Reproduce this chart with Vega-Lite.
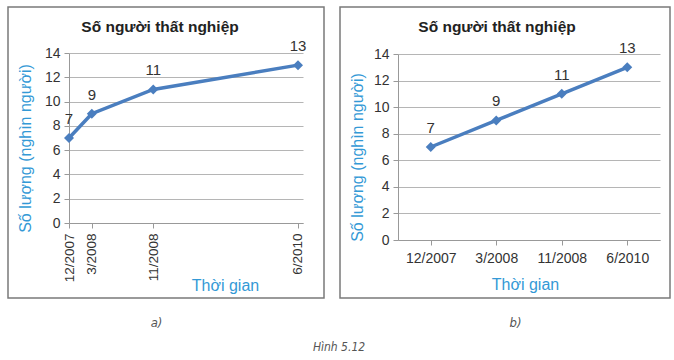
{
  "$schema": "https://vega.github.io/schema/vega-lite/v6.json",
  "padding": {"left": 7, "top": 6, "right": 0, "bottom": 0},
  "background": "white",
  "title": {"text": "Hình 5.12", "orient": "bottom", "anchor": "middle", "frame": "bounds", "fontSize": 12, "fontStyle": "italic", "fontWeight": "normal", "color": "#555555", "font": "DejaVu Sans Condensed", "offset": 12},
  "datasets": {
    "d": [
      {"date": "2007-12-01", "label": "12/2007", "value": 7},
      {"date": "2008-03-01", "label": "3/2008", "value": 9},
      {"date": "2008-11-01", "label": "11/2008", "value": 11},
      {"date": "2010-06-01", "label": "6/2010", "value": 13}
    ]
  },
  "spacing": 14,
  "hconcat": [
    {
      "width": 316,
      "height": 291,
      "data": {"name": "d"},
      "title": {"text": "Số người thất nghiệp", "orient": "top", "anchor": "middle", "frame": "group", "offset": -28, "dx": -6, "fontSize": 15.5, "fontWeight": "bold", "color": "#222222", "font": "Liberation Sans"},
      "layer": [
        {
          "mark": {"type": "line", "color": "#4a7ebf", "strokeWidth": 3.5, "point": {"shape": "diamond", "size": 100, "color": "#4a7ebf", "filled": true, "opacity": 1}},
          "encoding": {
            "x": {
              "field": "date", "type": "temporal",
              "scale": {"type": "utc", "domain": [{"year": 2007, "month": 12, "date": 1, "utc": true}, {"year": 2010, "month": 6, "date": 21, "utc": true}], "range": [61, 295]},
              "axis": {
                "orient": "bottom", "offset": -75, "grid": false,
                "values": [{"year": 2007, "month": 12, "date": 1, "utc": true}, {"year": 2008, "month": 3, "date": 1, "utc": true}, {"year": 2008, "month": 11, "date": 1, "utc": true}, {"year": 2010, "month": 6, "date": 1, "utc": true}],
                "labelExpr": "utcFormat(datum.value, '%-m/%Y')", "labelAngle": -90, "labelFontSize": 13.5, "labelPadding": 5,
                "title": "Thời gian", "titleX": 217, "titleY": 62, "titleBaseline": "middle", "titleAlign": "center"
              }
            },
            "y": {
              "field": "value", "type": "quantitative",
              "scale": {"domain": [0, 14], "range": [216, 46], "nice": false, "zero": true},
              "axis": {"values": [0, 2, 4, 6, 8, 10, 12, 14], "offset": -61, "grid": true, "labelPadding": 4, "title": "Số lượng (nghìn người)", "titleY": 141, "titlePadding": 11}
            }
          }
        },
        {
          "mark": {"type": "text", "dy": -19, "fontSize": 15, "color": "#333333", "font": "Liberation Sans"},
          "encoding": {
            "x": {"field": "date", "type": "temporal", "scale": {"type": "utc"},
              "axis": {"orient": "bottom", "labels": false, "ticks": false, "domain": false, "grid": false, "title": "a)", "titleX": 148, "titleY": 24, "titleBaseline": "middle", "titleAlign": "center", "titleFontStyle": "italic", "titleColor": "#555555", "titleFont": "DejaVu Sans Condensed", "titleFontSize": 13}},
            "y": {"field": "value", "type": "quantitative"},
            "text": {"field": "value", "type": "quantitative"}
          }
        }
      ],
      "resolve": {"axis": {"x": "independent"}}
    },
    {
      "width": 330,
      "height": 291,
      "data": {"name": "d"},
      "title": {"text": "Số người thất nghiệp", "orient": "top", "anchor": "middle", "frame": "group", "offset": -28, "dx": -8, "fontSize": 15.5, "fontWeight": "bold", "color": "#222222", "font": "Liberation Sans"},
      "layer": [
        {
          "mark": {"type": "line", "color": "#4a7ebf", "strokeWidth": 3.5, "point": {"shape": "diamond", "size": 100, "color": "#4a7ebf", "filled": true, "opacity": 1}},
          "encoding": {
            "x": {
              "field": "label", "type": "ordinal", "sort": null,
              "scale": {"type": "point", "padding": 0.5, "range": [58, 320]},
              "axis": {"orient": "bottom", "offset": -58, "grid": false, "labelAngle": 0, "labelPadding": 6, "title": "Thời gian", "titleX": 185, "titleY": 44, "titleBaseline": "middle", "titleAlign": "center"}
            },
            "y": {
              "field": "value", "type": "quantitative",
              "scale": {"domain": [0, 14], "range": [233, 47], "nice": false, "zero": true},
              "axis": {"values": [0, 2, 4, 6, 8, 10, 12, 14], "offset": -58, "grid": true, "labelPadding": 4, "title": "Số lượng (nghìn người)", "titleY": 150, "titlePadding": 8}
            }
          }
        },
        {
          "mark": {"type": "text", "dy": -19, "fontSize": 15, "color": "#333333", "font": "Liberation Sans"},
          "encoding": {
            "x": {"field": "label", "type": "ordinal", "sort": null,
              "axis": {"orient": "bottom", "labels": false, "ticks": false, "domain": false, "grid": false, "title": "b)", "titleX": 175, "titleY": 24, "titleBaseline": "middle", "titleAlign": "center", "titleFontStyle": "italic", "titleColor": "#555555", "titleFont": "DejaVu Sans Condensed", "titleFontSize": 13}},
            "y": {"field": "value", "type": "quantitative"},
            "text": {"field": "value", "type": "quantitative"}
          }
        }
      ],
      "resolve": {"axis": {"x": "independent"}}
    }
  ],
  "config": {
    "font": "Liberation Sans",
    "view": {"stroke": "#7a7a7a", "strokeWidth": 1.5},
    "axis": {"labelFont": "Liberation Sans", "labelFontSize": 14, "labelColor": "#333333", "domainColor": "#999999", "tickColor": "#999999", "tickSize": 5, "gridColor": "#b5b5b5", "titleFont": "Liberation Sans", "titleFontWeight": "normal", "titleFontSize": 16, "titleColor": "#3399d6"}
  }
}
